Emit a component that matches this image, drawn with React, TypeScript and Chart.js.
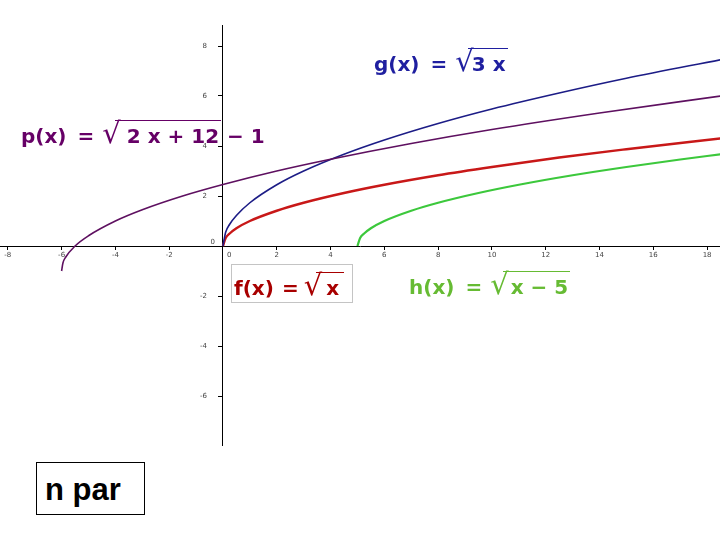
import React, { useEffect, useRef } from "react";
import { Chart, registerables } from "chart.js";
Chart.register(...registerables);

const xTicks = [-8, -6, -4, -2, 0, 2, 4, 6, 8, 10, 12, 14, 16, 18];
const yTicks = [-6, -4, -2, 0, 2, 4, 6, 8];

// f(x) = sqrt(x)
const fX = [0, 0.1, 0.25, 0.5, 1, 2, 3, 4.5, 6, 8, 10, 12.5, 15, 18.5];
const fY = [0, 0.32, 0.5, 0.71, 1, 1.41, 1.73, 2.12, 2.45, 2.83, 3.16, 3.54, 3.87, 4.3];
// g(x) = sqrt(3x)
const gX = [0, 0.1, 0.25, 0.5, 1, 2, 3, 4.5, 6, 8, 10, 12.5, 15, 18.5];
const gY = [0, 0.55, 0.87, 1.22, 1.73, 2.45, 3, 3.67, 4.24, 4.9, 5.48, 6.12, 6.71, 7.45];
// h(x) = sqrt(x - 5)
const hX = [5, 5.1, 5.25, 5.5, 6, 7, 8, 9.5, 11, 13, 15, 17, 18.5];
const hY = [0, 0.32, 0.5, 0.71, 1, 1.41, 1.73, 2.12, 2.45, 2.83, 3.16, 3.46, 3.67];
// p(x) = sqrt(2x + 12) - 1
const pX = [-6, -5.95, -5.85, -5.5, -5, -4, -3, -1.5, 0, 2, 4, 7, 10, 14, 18.5];
const pY = [-1, -0.68, -0.45, 0, 0.41, 1, 1.45, 2, 2.46, 3, 3.47, 4.1, 4.66, 5.32, 6];

const FONT = "'DejaVu Sans', Verdana, sans-serif";
const TICK_FONT = `7px ${FONT}`;
const TICK_COLOR = "#444";

function Rad({ children, color, pad = 4, gap = 8, padR = 2 }: { children: React.ReactNode; color: string; pad?: number; gap?: number; padR?: number }) {
  return (
    <span style={{ display: "inline-flex", alignItems: "baseline", marginLeft: gap }}>
      <span style={{ fontWeight: 400, fontSize: 29, lineHeight: "29px" }}>√</span>
      <span
        style={{
          borderTop: `1.5px solid ${color}`,
          paddingTop: 5,
          paddingLeft: pad,
          paddingRight: padR,
          marginLeft: -6,
          lineHeight: "20px",
        }}
      >
        {children}
      </span>
    </span>
  );
}

function Label({ left, top, color, name, eqGap = 11, children }: { left: number; top: number; color: string; name: string; eqGap?: number; children: React.ReactNode }) {
  return (
    <div
      style={{
        position: "absolute",
        left,
        top,
        color,
        fontFamily: FONT,
        fontWeight: 700,
        fontSize: 20,
        whiteSpace: "pre",
        display: "flex",
        alignItems: "baseline",
      }}
    >
      <span>{name}</span>
      <span style={{ margin: `0 0 0 ${eqGap}px` }}>=</span>
      {children}
    </div>
  );
}

const tickLabelPlugin = {
  id: "tickLabels",
  afterDraw(chart: any) {
    const { ctx, scales } = chart;
    const xs = scales.x;
    const ys = scales.y;
    const x0 = xs.getPixelForValue(0);
    const y0 = ys.getPixelForValue(0);
    ctx.save();
    ctx.font = TICK_FONT;
    ctx.fillStyle = TICK_COLOR;
    ctx.textBaseline = "middle";
    ctx.textAlign = "right";
    yTicks.forEach((v) => {
      if (v === 0) return;
      ctx.fillText(String(v), x0 - 16, ys.getPixelForValue(v));
    });
    ctx.fillText("0", x0 - 8, y0 - 4);
    ctx.textAlign = "left";
    ctx.fillText("0", x0 + 4, y0 + 9);
    ctx.restore();
  },
};

export default function App() {
  const ref = useRef<HTMLCanvasElement>(null);
  useEffect(() => {
    const pts = (xs: number[], ys: number[]) => xs.map((x, i) => ({ x, y: ys[i] }));
    const line = (data: any, color: string, w: number) => ({
      data,
      showLine: true,
      borderColor: color,
      backgroundColor: color,
      borderWidth: w,
      pointRadius: 0,
      cubicInterpolationMode: "monotone" as const,
    });
    const chart = new Chart(ref.current!, {
      type: "scatter",
      data: {
        datasets: [
          line(pts(pX, pY), "#5e1060", 1.6),
          line(pts(gX, gY), "#1c1c86", 1.6),
          line(pts(hX, hY), "#3cc83c", 2.2),
          line(pts(fX, fY), "#c81818", 2.4),
        ],
      },
      options: {
        animation: false,
        responsive: false,
        devicePixelRatio: 1,
        layout: { padding: { top: 25, bottom: 95, left: 0, right: 0 } },
        plugins: { legend: { display: false }, tooltip: { enabled: false } },
        scales: {
          x: {
            type: "linear",
            min: -8.29,
            max: 18.48,
            position: { y: 0 } as any,
            afterBuildTicks: (s: any) => {
              s.ticks = xTicks.map((v) => ({ value: v }));
            },
            grid: { drawOnChartArea: false, drawTicks: true, tickLength: 3, color: "#000" },
            border: { color: "#000", width: 1 },
            ticks: {
              font: { size: 7, family: FONT },
              color: TICK_COLOR,
              padding: 2,
              maxRotation: 0,
              autoSkip: false,
              callback: (v: any) => (v === 0 ? "" : String(v)),
            },
          },
          y: {
            type: "linear",
            min: -7.96,
            max: 8.84,
            position: { x: 0 } as any,
            afterBuildTicks: (s: any) => {
              s.ticks = yTicks.map((v) => ({ value: v }));
            },
            grid: { drawOnChartArea: false, drawTicks: true, tickLength: 4, color: "#000" },
            border: { color: "#000", width: 1 },
            ticks: { display: false },
          },
        },
      },
      plugins: [tickLabelPlugin],
    });
    return () => chart.destroy();
  }, []);

  return (
    <div style={{ position: "fixed", left: 0, top: 0, width: 720, height: 540, background: "#fff", overflow: "hidden" }}>
      <canvas ref={ref} width={720} height={540} style={{ position: "absolute", left: 0, top: 0, width: 720, height: 540 }} />
      <Label left={21} top={119} color="#660066" name="p(x)">
        <Rad color="#660066" pad={12}>2 x + 12</Rad>
        <span style={{ marginLeft: 6 }}>− 1</span>
      </Label>
      <Label left={374} top={47} color="#1f1fa0" name="g(x)">
        <Rad color="#1f1fa0" pad={4}>3 x</Rad>
      </Label>
      <div
        style={{
          position: "absolute",
          left: 231,
          top: 264,
          width: 120,
          height: 37,
          border: "1px solid #c4c4c4",
          background: "#fff",
        }}
      />
      <Label left={234} top={271} color="#a80000" name="f(x)" eqGap={8}>
        <Rad color="#a80000" pad={10} gap={5} padR={5}>x</Rad>
      </Label>
      <Label left={409} top={270} color="#66bb33" name="h(x)">
        <Rad color="#66bb33" pad={8}>x − 5</Rad>
      </Label>
      <div
        style={{
          position: "absolute",
          left: 36,
          top: 462,
          width: 99,
          height: 51,
          border: "1px solid #000",
          background: "#fff",
          fontFamily: "'Liberation Sans', Arial, sans-serif",
          fontWeight: 700,
          fontSize: 31,
          lineHeight: "53px",
          paddingLeft: 8,
          boxSizing: "content-box",
          color: "#000",
        }}
      >
        n par
      </div>
    </div>
  );
}
